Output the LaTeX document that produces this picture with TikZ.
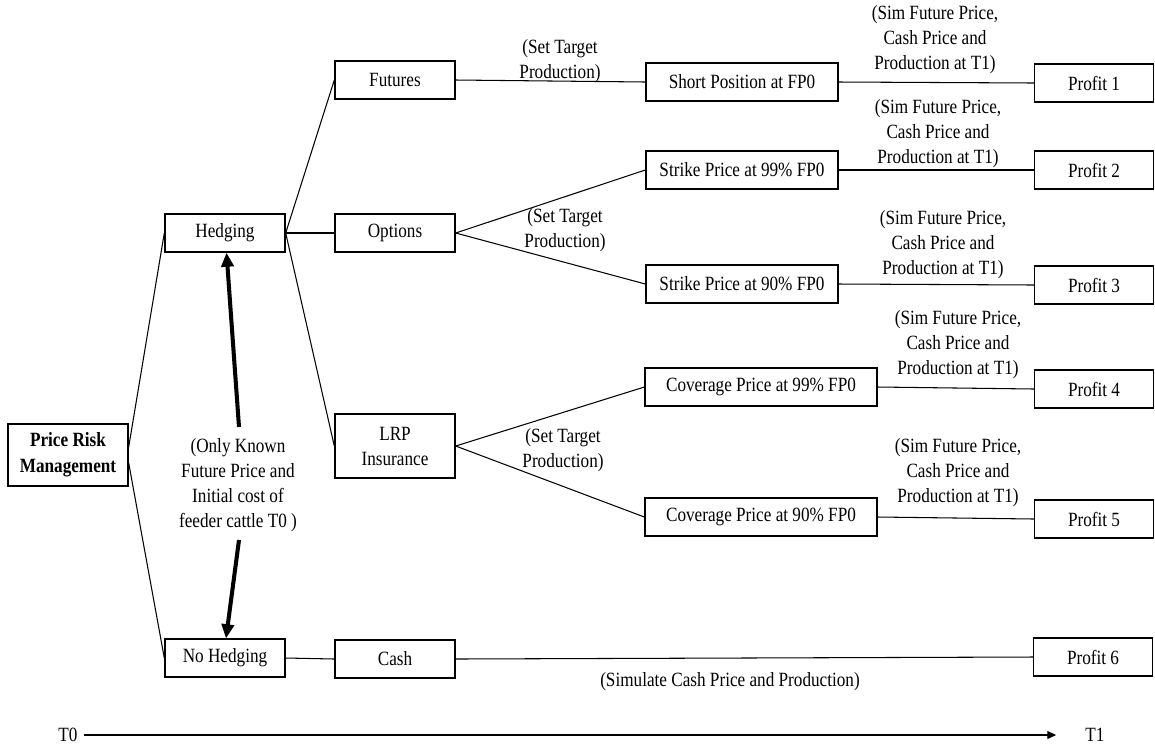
\documentclass[tikz,border=0pt]{standalone}
\usepackage{fontspec}
\setmainfont{Liberation Serif}[FakeStretch=0.85]
\usetikzlibrary{arrows.meta}
\begin{document}
\begin{tikzpicture}[x=0.02cm,y=-0.02cm,
  font=\fontsize{11.5pt}{14.2pt}\selectfont,
  box/.style={draw, line width=0.8pt, inner sep=0pt, align=center, minimum height=0.76cm},
  wa/.style={minimum width=2.4cm},
  wc/.style={minimum width=3.84cm},
  wd/.style={minimum width=4.64cm},
  conn/.style={line width=0.6pt},
  lbl/.style={align=center, inner sep=0pt},
  bigarrow/.style={line width=2.3pt, -{Triangle[length=8pt,width=7pt]}},
  timearrow/.style={line width=0.7pt, -{Triangle[length=5pt,width=4.5pt]}}
]
\useasboundingbox (0,0) rectangle (1155,748);

% nodes
\node[box, wa, minimum height=1.24cm, font=\fontsize{11.5pt}{14.8pt}\selectfont\bfseries] (prm) at (68,455) {Price Risk\\Management};
\node[box, wa] (hedg) at (225,233) {Hedging};
\node[box, wa] (nohedg) at (225,658) {No Hedging};
\node[box, wa] (fut) at (395,80) {Futures};
\node[box, wa] (opt) at (395,233) {Options};
\node[box, wa, minimum height=1.28cm] (lrp) at (395,446) {LRP\\Insurance};
\node[box, wa] (cash) at (395,659) {Cash};
\node[box, wc] (sp) at (742,82) {Short Position at FP0};
\node[box, wc] (s99) at (742,170) {Strike Price at 99\% FP0};
\node[box, wc] (s90) at (742,284) {Strike Price at 90\% FP0};
\node[box, wd] (c99) at (761,387) {Coverage Price at 99\% FP0};
\node[box, wd] (c90) at (761,517) {Coverage Price at 90\% FP0};
\node[box, minimum width=2.38cm] (p1) at (1094,83) {Profit 1};
\node[box, minimum width=2.38cm] (p2) at (1094,170) {Profit 2};
\node[box, minimum width=2.38cm] (p3) at (1094,285) {Profit 3};
\node[box, minimum width=2.38cm] (p4) at (1094,389) {Profit 4};
\node[box, minimum width=2.38cm] (p5) at (1094,519) {Profit 5};
\node[box, minimum width=2.38cm] (p6) at (1093,657) {Profit 6};

% connectors
\draw[conn] ([yshift=0.16cm]prm.east) -- (hedg.west);
\draw[conn] ([yshift=-0.16cm]prm.east) -- (nohedg.west);
\draw[conn] (hedg.east) -- (fut.west);
\draw[conn] (hedg.east) -- (opt.west);
\draw[conn] (hedg.east) -- (lrp.west);
\draw[conn] (nohedg.east) -- (cash.west);
\draw[conn] (fut.east) -- (sp.west);
\draw[conn] (opt.east) -- (s99.west);
\draw[conn] (opt.east) -- (s90.west);
\draw[conn] (lrp.east) -- (c99.west);
\draw[conn] (lrp.east) -- (c90.west);
\draw[conn] (sp.east) -- (p1.west);
\draw[conn] (s99.east) -- (p2.west);
\draw[conn] (s90.east) -- (p3.west);
\draw[conn] (c99.east) -- (p4.west);
\draw[conn] (c90.east) -- (p5.west);
\draw[conn] (cash.east) -- (p6.west);

% labels
\node[lbl] (l1) at (560,61) {(Set Target\\Production)};
\node[lbl] (l2) at (565,230) {(Set Target\\Production)};
\node[lbl] (l3) at (563,450) {(Set Target\\Production)};
\node[lbl] (m1) at (935,40) {(Sim Future Price,\\Cash Price and\\Production at T1)};
\node[lbl] (m2) at (938,134) {(Sim Future Price,\\Cash Price and\\Production at T1)};
\node[lbl] (m3) at (943,245) {(Sim Future Price,\\Cash Price and\\Production at T1)};
\node[lbl] (m4) at (958,345) {(Sim Future Price,\\Cash Price and\\Production at T1)};
\node[lbl] (m5) at (958,473) {(Sim Future Price,\\Cash Price and\\Production at T1)};
\node[lbl] (m6) at (730,682) {(Simulate Cash Price and Production)};
\node[lbl] (known) at (238,485) {(Only Known\\Future Price and\\Initial cost of\\feeder cattle T0 )};

% thick arrows
\coordinate (a1) at (239,427);
\coordinate (a2) at (239,540);
\draw[bigarrow] (a1) -- ([xshift=0.03cm]hedg.south);
\draw[bigarrow] (a2) -- ([xshift=0.02cm]nohedg.north);

% timeline
\node[lbl] (t0) at (68,735) {T0};
\node[lbl] (t1) at (1095,735) {T1};
\draw[timearrow, shorten <=0.12cm, shorten >=0.58cm] (t0.east) -- (t1.west);
\end{tikzpicture}
\end{document}
